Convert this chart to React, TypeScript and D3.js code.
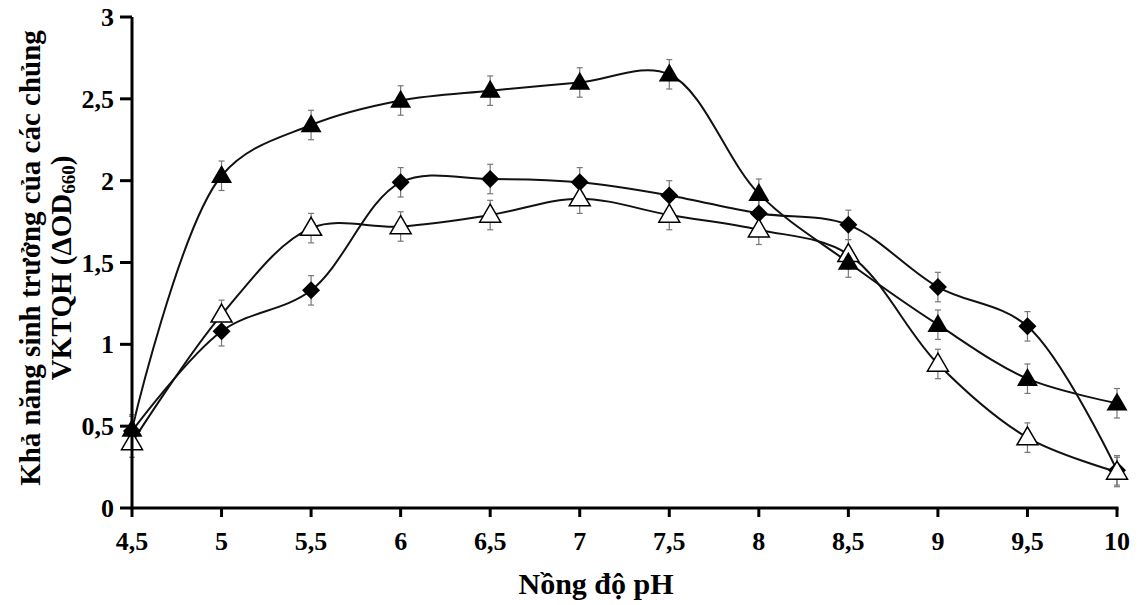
import React from "react";
import * as d3 from "d3";

const phValues = [4.5, 5, 5.5, 6, 6.5, 7, 7.5, 8, 8.5, 9, 9.5, 10];
const xTickLabels = ["4,5", "5", "5,5", "6", "6,5", "7", "7,5", "8", "8,5", "9", "9,5", "10"];
const yTicks = [0, 0.5, 1, 1.5, 2, 2.5, 3];
const yTickLabels = ["0", "0,5", "1", "1,5", "2", "2,5", "3"];

const filledTriangle = [0.48, 2.03, 2.34, 2.49, 2.55, 2.6, 2.65, 1.92, 1.5, 1.12, 0.79, 0.64];
const diamond = [0.47, 1.08, 1.33, 1.99, 2.01, 1.99, 1.91, 1.8, 1.73, 1.35, 1.11, 0.23];
const openTriangle = [0.4, 1.18, 1.71, 1.72, 1.79, 1.89, 1.79, 1.7, 1.55, 0.88, 0.43, 0.22];
const errorValue = 0.09;

const W = 1141;
const H = 605;
const left = 132;
const right = 1117;
const top = 17;
const bottom = 508;

export default function App() {
  const x = d3.scaleLinear().domain([4.5, 10]).range([left, right]);
  const y = d3.scaleLinear().domain([0, 3]).range([bottom, top]);
  const line = d3
    .line<number>()
    .x((_, i) => x(phValues[i]))
    .y((d) => y(d))
    .curve(d3.curveCatmullRom.alpha(0.5));

  const series = [
    { name: "diamond", values: diamond, shape: "diamond" },
    { name: "open", values: openTriangle, shape: "openTri" },
    { name: "filled", values: filledTriangle, shape: "filledTri" },
  ];

  const font = "'Liberation Serif', 'Times New Roman', serif";

  const marker = (shape: string, cx: number, cy: number, key: string) => {
    if (shape === "diamond") {
      const s = 9;
      return (
        <path
          key={key}
          d={`M${cx},${cy - s}L${cx + s},${cy}L${cx},${cy + s}L${cx - s},${cy}Z`}
          fill="#000"
        />
      );
    }
    const h = 18;
    const w = 10.5;
    const p = `M${cx},${cy - h * 0.6}L${cx + w},${cy + h * 0.4}L${cx - w},${cy + h * 0.4}Z`;
    if (shape === "filledTri") return <path key={key} d={p} fill="#000" />;
    return <path key={key} d={p} fill="#fff" stroke="#000" strokeWidth={1.5} />;
  };

  return (
    <svg
      width={W}
      height={H}
      style={{ position: "absolute", left: 0, top: 0, background: "#fff" }}
      fontFamily={font}
    >
      <rect width={W} height={H} fill="#fff" />
      {series.map((s) => (
        <path key={s.name} d={line(s.values) || ""} fill="none" stroke="#111" strokeWidth={2} />
      ))}
      {series.map((s) =>
        s.values.map((v, i) => {
          const cx = x(phValues[i]);
          const y1 = y(v + errorValue);
          const y2 = y(v - errorValue);
          return (
            <g key={`${s.name}-e${i}`} stroke="#777" strokeWidth={1.2}>
              <line x1={cx} x2={cx} y1={y1} y2={y2} />
              <line x1={cx - 3} x2={cx + 3} y1={y1} y2={y1} />
              <line x1={cx - 3} x2={cx + 3} y1={y2} y2={y2} />
            </g>
          );
        })
      )}
      {series.map((s) => s.values.map((v, i) => marker(s.shape, x(phValues[i]), y(v), `${s.name}-m${i}`)))}
      <line x1={left} x2={left} y1={top} y2={bottom + 1.5} stroke="#000" strokeWidth={3} />
      <line x1={left - 1.5} x2={right + 1.5} y1={bottom} y2={bottom} stroke="#000" strokeWidth={3} />
      {yTicks.map((t, i) => (
        <g key={`yt${i}`}>
          <line x1={left - 12} x2={left} y1={y(t)} y2={y(t)} stroke="#000" strokeWidth={3} />
          <text x={left - 18} y={y(t) + 9} textAnchor="end" fontSize={26} fontWeight="bold">
            {yTickLabels[i]}
          </text>
        </g>
      ))}
      {phValues.map((p, i) => (
        <g key={`xt${i}`}>
          <line x1={x(p)} x2={x(p)} y1={bottom} y2={bottom + 9} stroke="#000" strokeWidth={3} />
          <text x={x(p)} y={550} textAnchor="middle" fontSize={26} fontWeight="bold">
            {xTickLabels[i]}
          </text>
        </g>
      ))}
      <text x={596} y={594} textAnchor="middle" fontSize={30} fontWeight="bold">
        Nồng độ pH
      </text>
      <g transform="rotate(-90)">
        <text x={-258} y={40} textAnchor="middle" fontSize={29} fontWeight="bold">
          Khả năng sinh trưởng của các chủng
        </text>
        <text x={-268} y={71} textAnchor="middle" fontSize={29} fontWeight="bold">
          VKTQH (ΔOD<tspan fontSize={19} dy={4}>660</tspan>
          <tspan dy={-4}>)</tspan>
        </text>
      </g>
    </svg>
  );
}
